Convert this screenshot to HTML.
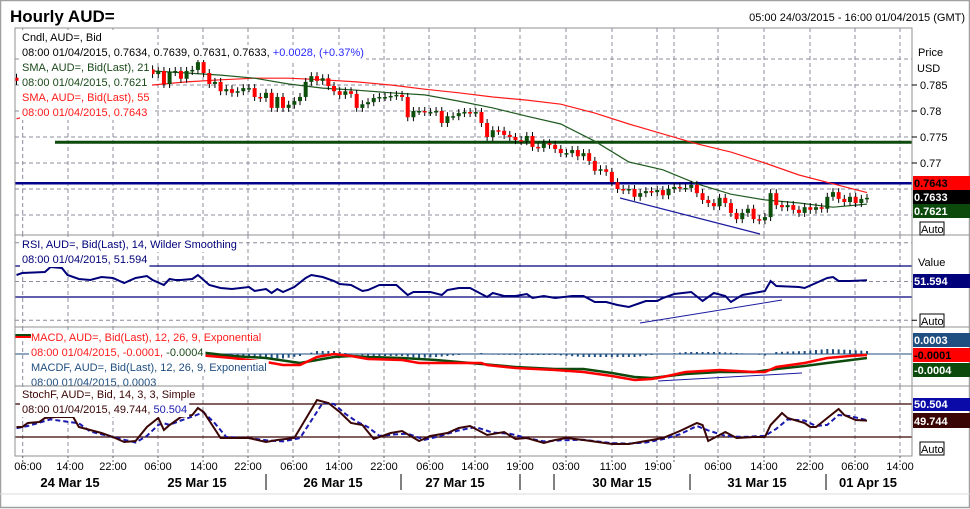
<!DOCTYPE html>
<html><head><meta charset="utf-8"><style>
html,body{margin:0;padding:0;background:#fff}
svg{display:block;font-family:"Liberation Sans",Arial,sans-serif}
</style></head><body>
<svg id="c" width="970" height="509" viewBox="0 0 970 509" xmlns="http://www.w3.org/2000/svg">
<rect x="0" y="0" width="970" height="509" fill="#fff"/>
<rect x="0.5" y="0.5" width="969" height="507" fill="none" stroke="#a0a0a0" stroke-width="1.5"/>
<text x="10" y="22" font-size="17" font-weight="bold" fill="#000">Hourly AUD=</text>
<text x="965" y="21" font-size="11" text-anchor="end" fill="#000">05:00 24/03/2015 - 16:00 01/04/2015 (GMT)</text>
<g id="grid"></g>
<g id="marks"></g>
<g id="legend"></g>
<g id="frames"></g>
<g id="axes"></g>
</svg>
<script>
// ---------- DATA ----------
const closes = [0.7858,0.7862,0.7866,0.7870,0.7868,0.7872,0.7875,0.7873,0.7870,0.7874,0.7878,0.7880,0.7877,0.7874,0.7872,0.7876,0.7879,0.7882,0.7880,0.7877,0.7875,0.7878,0.7876,0.7880,
0.7871,0.7877,0.7852,0.7875,0.7877,0.7862,0.7877,0.7879,0.7894,0.7873,0.7852,0.7856,0.7838,0.7842,0.7835,0.7838,0.7844,0.7844,0.7827,0.7825,0.7835,0.7806,0.7827,0.7806,0.7812,0.7819,
0.7827,0.7856,0.7867,0.7858,0.7863,0.7848,0.7838,0.7831,0.7838,0.7833,0.7806,0.7813,0.7817,0.7825,0.7827,0.7827,0.7829,0.7831,0.7827,0.7788,0.7800,0.7800,0.7798,0.7798,0.7800,
0.7777,0.7790,0.7790,0.7796,0.7798,0.7796,0.7798,0.7777,0.7750,0.7763,0.7762,0.7754,0.7750,0.7744,0.7742,0.7752,0.7731,0.7729,0.7738,0.7735,0.7727,0.7719,0.7719,0.7725,0.7713,
0.7719,0.7704,0.7685,0.7688,0.7683,0.7663,0.7650,0.7648,0.7650,0.7635,0.7642,0.7646,0.7644,0.7648,0.7638,0.7650,0.7654,0.7652,0.7652,0.7658,0.7642,0.7629,0.7623,0.7617,0.7633,
0.7623,0.7604,0.7592,0.7604,0.7612,0.7592,0.7590,0.7596,0.7642,0.7619,0.7615,0.7619,0.7610,0.7604,0.7615,0.7610,0.7615,0.7612,0.7635,0.7644,0.7631,0.7625,0.7635,0.7623,0.7631,0.7633];
const sma21Idx = [24,30,36,42,48,54,60,66,72,78,84,90,96,102,108,114,120,126,132,138,144,150];
const sma21Val = [0.7877,0.7873,0.7869,0.7863,0.7852,0.7844,0.7840,0.7835,0.7831,0.7819,0.7806,0.7790,0.7775,0.7742,0.7702,0.7687,0.7660,0.7640,0.7629,0.7623,0.7615,0.7621];
const sma55Idx = [0,6,12,18,24,30,36,42,48,54,60,66,72,78,84,90,96,102,108,114,120,126,132,138,144,150];
const sma55Val = [0.7785,0.7802,0.7821,0.7837,0.7850,0.7856,0.7860,0.7863,0.7863,0.7860,0.7856,0.7850,0.7842,0.7835,0.7827,0.7821,0.7813,0.7796,0.7775,0.7756,0.7737,0.7721,0.7700,0.7677,0.7660,0.7643];
const priceTicks = [0.785,0.78,0.775,0.77];
const priceTickLabels = ["0.785","0.78","0.775","0.77"];
const supportLevel = 0.774;
const resistLevel = 0.7661;

const rsiIdx = [0,1,5,6,8,9,11,13,15,17,19,21,23,24,26,27,28,29,31,32,34,36,38,41,42,44,45,46,47,49,51,52,54,56,57,59,61,62,64,67,69,70,73,75,76,78,80,83,84,86,88,90,91,93,95,98,100,102,104,106,108,110,111,113,114,116,119,121,123,125,126,128,131,132,133,134,138,139,141,143,144,145,147,150];
const rsiVal = [58.4,61.0,62.3,68.7,67.4,58.4,53.2,51.9,55.8,54.5,48.1,54.5,57.1,51.9,45.5,53.2,51.9,51.9,53.2,58.4,45.5,41.6,40.3,42.9,37.7,40.3,35.2,40.3,36.5,42.9,54.5,58.4,55.8,50.6,46.8,45.5,37.7,39.0,45.5,45.5,32.6,36.5,36.5,32.6,39.0,41.6,41.6,30.0,35.2,31.3,31.3,33.9,28.7,31.3,28.7,31.3,31.3,23.6,23.6,19.7,17.1,22.3,24.8,24.8,28.7,33.9,36.5,24.8,35.2,31.3,23.6,32.6,36.5,37.7,50.6,44.2,42.9,41.6,48.1,54.5,55.8,50.6,50.6,51.594];

const macdIdx = [32,38,44,47,50,53,56,59,62,68,71,79,82,83,88,95,100,105,109,112,114,118,124,130,132,134,139,143,147,150];
const macdVal = [-0.0001,-0.0004,-0.0008,-0.0011,-0.0011,-0.0003,0.0000,-0.0002,-0.0005,-0.0006,-0.0009,-0.0009,-0.0009,-0.0011,-0.0014,-0.0016,-0.0018,-0.0022,-0.0026,-0.0025,-0.0023,-0.0018,-0.0016,-0.0018,-0.0018,-0.0013,-0.0009,-0.0004,-0.0002,-0.0001];
const sigIdx = [32,38,44,50,53,56,59,62,68,74,82,88,95,100,105,109,112,118,124,130,134,139,143,150];
const sigVal = [0.0002,-0.0002,-0.0004,-0.0009,-0.0006,-0.0003,-0.0002,-0.0003,-0.0004,-0.0006,-0.0010,-0.0013,-0.0015,-0.0015,-0.0019,-0.0023,-0.0024,-0.0020,-0.0018,-0.0018,-0.0015,-0.0012,-0.0009,-0.0004];

const kIdx = [0,1,2,4,5,7,9,10,11,13,15,17,19,21,23,25,26,27,29,31,32,33,36,38,41,44,46,49,53,55,57,59,61,63,66,68,71,73,76,78,80,83,86,88,90,93,95,97,100,105,108,111,114,117,120,121,122,125,127,130,132,133,135,136,139,140,141,143,145,146,148,150];
const kVal = [38.2,38.2,45.5,47.3,54.5,56.4,56.4,56.4,38.2,32.7,27.3,20.0,10.9,12.7,38.2,54.5,32.7,41.8,56.4,60.0,72.7,65.5,18.2,18.2,18.2,10.9,14.5,18.2,87.3,81.8,65.5,45.5,41.8,16.4,27.3,30.9,12.7,21.8,27.3,36.4,40.0,23.6,29.1,16.4,18.2,9.1,14.5,18.2,14.5,7.3,7.3,12.7,18.2,30.9,45.5,41.8,12.7,29.1,18.2,20.0,20.0,41.8,63.6,54.5,45.5,38.2,38.2,54.5,70.9,60.0,50.9,49.744];
const dIdx = [0,2,4,6,11,13,15,17,19,21,23,25,26,27,29,31,33,35,37,41,44,47,50,54,56,58,60,62,64,67,69,72,74,78,81,84,87,90,93,96,100,105,108,111,114,117,120,122,125,128,132,134,136,139,141,143,145,147,150];
const dVal = [36,40,46,52,45,30,25,20,15,10,22,42,45,42,50,57,65,45,20,18,14,12,18,82,80,62,48,38,22,25,26,15,20,32,38,28,26,18,12,14,15,9,8,10,16,25,40,32,22,20,22,35,52,50,40,42,60,58,50.504];

const timeLabels = ["06:00","14:00","22:00","06:00","14:00","22:00","06:00","14:00","22:00","06:00","14:00","19:00","03:00","11:00","19:00","06:00","14:00","22:00","06:00","14:00"];
const dateLabels = ["24 Mar 15","25 Mar 15","26 Mar 15","27 Mar 15","30 Mar 15","31 Mar 15","01 Apr 15"];

// ---------- LAYOUT ----------
const NS="http://www.w3.org/2000/svg";
const L=15,R=912;
const P={top:28,bot:235}, RS={top:235,bot:327}, M={top:327,bot:386}, S={top:386,bot:456};
const xi=i=>16.5+i*5.67;
const yP=p=>85+(0.785-p)*5200;
const yR=v=>281.5-(v-50)*0.775;
const yM=v=>354-v*10000;
const yS=v=>420.5-(v-50)*0.55;
const gridX=[22.7,68,113,158,203,248,293,339,384,429,475,520,566,612,657,674,718,764,810,855,900];
const timeX=[28,70,113,158,204,248,294,339,384,430,475,520,566,613,658,718,764,810,855,900];
const dateX=[70,197,333,455,622,757,868];
const sepX=[266,401,520,554,690,826];

function mk(tag,attrs,parent,txt){const e=document.createElementNS(NS,tag);for(const k in attrs)e.setAttribute(k,attrs[k]);if(txt!==undefined)e.textContent=txt;parent.appendChild(e);return e;}
const grid=document.getElementById('grid'),marks=document.getElementById('marks'),legend=document.getElementById('legend'),frames=document.getElementById('frames'),axes=document.getElementById('axes');

// grid
const dash={stroke:"#8c8c9c","stroke-width":1,"stroke-dasharray":"4,3",fill:"none"};
for(const x of gridX){
  for(const pn of [P,RS,M,S]){
    const g=mk('line',Object.assign({x1:x,x2:x,y1:pn.top,y2:pn.bot},dash),grid);
    
    
  }
}
for(const y of [59,85,111,137,163,189,215]){const g=mk('line',Object.assign({x1:L,x2:R,y1:y,y2:y},dash),grid);}
for(const v of [100,50,0]){const g=mk('line',Object.assign({x1:L,x2:R,y1:yR(v),y2:yR(v)},dash),grid);}

function poly(idx,val,ys,attrs,name){
  const pts=idx.map((i,k)=>xi(i).toFixed(1)+","+ys(val[k]).toFixed(1)).join(" ");
  const e=mk('polyline',Object.assign({points:pts,fill:"none"},attrs),marks);
  
  
  return e;
}
function hline(y,x1,x2,col,w,name){const e=mk('line',{x1:x1,x2:x2,y1:y,y2:y,stroke:col,"stroke-width":w},marks);}

// price panel
hline(yP(supportLevel),55,R,"#0d4a0d",3,"support-line-0774");
hline(yP(resistLevel),L,R,"#00008b",2.5,"resistance-line");
poly(sma55Idx,sma55Val,yP,{stroke:"#ff1a1a","stroke-width":1.2},"sma55-line");
poly(sma21Idx,sma21Val,yP,{stroke:"#1f5a1f","stroke-width":1.2},"sma21-line");
for(let i=0;i<closes.length;i++){
  const o=i>0?closes[i-1]:closes[i]+0.0006, c=closes[i];
  const up=c>=o, col=up?"#0b4f0b":"#ff0000";
  const yt=yP(Math.max(o,c)), yb=yP(Math.min(o,c));
  const x=xi(i);
  const w=mk('line',{x1:x,x2:x,y1:yt-4,y2:yb+4,stroke:"#000","stroke-width":1},marks);
  
  
  const b=mk('rect',{x:x-2,y:yt,width:4,height:Math.max(1.5,yb-yt),fill:col},marks);
  
  
}
const tl=mk('line',{x1:620,y1:198,x2:760,y2:234,stroke:"#1a1aa0","stroke-width":1.2},marks);


// RSI
hline(yR(70),L,R,"#00007a",1.2,"rsi-70-line");
hline(yR(30),L,R,"#00007a",1.2,"rsi-30-line");
poly(rsiIdx,rsiVal,yR,{stroke:"#00007a","stroke-width":2},"rsi-line");
const rt=mk('line',{x1:640,y1:323,x2:782,y2:300,stroke:"#1a1aa0","stroke-width":1},marks);


// MACD
hline(yM(0),L,R,"#1f4e80",1,"macd-zero-line");
function interp(idx,val,i){if(i<=idx[0])return val[0];for(let k=1;k<idx.length;k++){if(i<=idx[k]){const t=(i-idx[k-1])/(idx[k]-idx[k-1]);return val[k-1]+t*(val[k]-val[k-1]);}}return val[val.length-1];}
for(let i=32;i<=150;i++){
  const h=interp(macdIdx,macdVal,i)-interp(sigIdx,sigVal,i);
  const y0=yM(0), y1=y0-h*10000;
  const bar=mk('rect',{x:xi(i)-1,y:Math.min(y0,y1),width:2,height:Math.max(0.5,Math.abs(y1-y0)),fill:"#1f4e80"},marks);
  
  
}
poly(sigIdx,sigVal,yM,{stroke:"#0d4a0d","stroke-width":2.5},"macd-signal-line");
poly(macdIdx,macdVal,yM,{stroke:"#ff0000","stroke-width":2.5},"macd-line");
const mt=mk('line',{x1:658,y1:381,x2:802,y2:373,stroke:"#1a1aa0","stroke-width":1},marks);


// Stoch
hline(yS(80),L,R,"#3a0505",1.2,"stoch-80-line");
hline(yS(20),L,R,"#3a0505",1.2,"stoch-20-line");
poly(dIdx,dVal,yS,{stroke:"#1a1ab0","stroke-width":2,"stroke-dasharray":"5,3"},"stoch-d-line");
poly(kIdx,kVal,yS,{stroke:"#3a0505","stroke-width":2},"stoch-k-line");

// Legends (text with white background)
function leg(x,y,parts,name){
  const t=mk('text',{x:x,y:y,"font-size":11},legend);
  
  
  for(const [s,c] of parts){mk('tspan',{fill:c},t,s);}
  const bb=t.getBBox();
  const r=document.createElementNS(NS,'rect');
  r.setAttribute('x',x-2);r.setAttribute('y',y-11);r.setAttribute('width',bb.width+4);r.setAttribute('height',15);r.setAttribute('fill','#fff');
  
  
  legend.insertBefore(r,legend.firstChild);
}
leg(22,41,[["Cndl, AUD=, Bid","#000"]],"legend-candle");
leg(22,56,[["08:00 01/04/2015, 0.7634, 0.7639, 0.7631, 0.7633, ","#000"],["+0.0028, (+0.37%)","#2a2aff"]],"legend-candle-values");
leg(22,71,[["SMA, AUD=, Bid(Last),  21","#1a4a1a"]],"legend-sma21");
leg(22,86,[["08:00 01/04/2015, 0.7621","#1a4a1a"]],"legend-sma21-value");
leg(22,101,[["SMA, AUD=, Bid(Last),  55","#ff1a1a"]],"legend-sma55");
leg(22,116,[["08:00 01/04/2015, 0.7643","#ff1a1a"]],"legend-sma55-value");
const lb=mk('rect',{x:20,y:30,width:132,height:87,fill:"#fff"},legend);

legend.insertBefore(lb,legend.firstChild);
leg(22,248,[["RSI, AUD=, Bid(Last),  14, Wilder Smoothing","#00007a"]],"legend-rsi");
leg(22,263,[["08:00 01/04/2015, 51.594","#00007a"]],"legend-rsi-value");
leg(31,341,[["MACD, AUD=, Bid(Last),  12, 26, 9, Exponential","#ff1a1a"]],"legend-macd");
leg(31,356,[["08:00 01/04/2015, -0.0001, ","#ff1a1a"],["-0.0004","#1a4a1a"]],"legend-macd-value");
leg(31,371,[["MACDF, AUD=, Bid(Last),  12, 26, 9, Exponential","#1f4e80"]],"legend-macdf");
leg(31,386,[["08:00 01/04/2015, 0.0003","#1f4e80"]],"legend-macdf-value");
leg(22,398,[["StochF, AUD=, Bid,  14, 3, 3, Simple","#3a0505"]],"legend-stoch");
leg(22,413,[["08:00 01/04/2015, 49.744, ","#3a0505"],["50.504","#1a1ab0"]],"legend-stoch-value");
mk('rect',{x:15,y:334,width:16,height:2,fill:"#0d4a0d"},legend);
mk('rect',{x:15,y:336,width:16,height:2,fill:"#ff0000"},legend);

// frames
for(const pn of [P,RS,M,S]){const f=mk('rect',{x:L,y:pn.top,width:R-L,height:pn.bot-pn.top,fill:"none",stroke:"#909090","stroke-width":1},frames);}
mk('line',{x1:L,x2:969,y1:P.bot,y2:P.bot,stroke:"#909090"},frames);
mk('line',{x1:L,x2:969,y1:RS.bot,y2:RS.bot,stroke:"#909090"},frames);
mk('line',{x1:L,x2:969,y1:M.bot,y2:M.bot,stroke:"#909090"},frames);

// right axis
function atxt(x,y,s,name,extra){const t=mk('text',Object.assign({x:x,y:y,"font-size":11,fill:"#000"},extra||{}),axes,s);return t;}
atxt(918,56,"Price","price-axis-title");
atxt(917,72,"USD","price-axis-unit");
priceTicks.forEach((p,k)=>{mk('line',{x1:R,x2:917,y1:yP(p),y2:yP(p),stroke:"#000"},axes);atxt(920,yP(p)+4,priceTickLabels[k],"price-tick-label");});
function box(y,h,bg,fg,s,name){const r=mk('rect',{x:913,y:y,width:57,height:h,fill:bg},axes);atxt(914,y+h-3,s,name,{fill:fg,"font-weight":"bold"});}
box(176,14,"#ff0000","#000","0.7643","sma55-value-label");
box(190,14,"#000","#fff","0.7633","last-price-label");
box(204,14,"#0b4a0b","#fff","0.7621","sma21-value-label");
function auto(y,name){const r=mk('rect',{x:920,y:y,width:24,height:13,fill:"#fff",stroke:"#000"},axes);atxt(921,y+11,"Auto",name+'-text');}
auto(222,"price-auto-button");
atxt(918,266,"Value","rsi-axis-title");
mk('line',{x1:R,x2:917,y1:yR(0),y2:yR(0),stroke:"#000"},axes);
box(274,14,"#00007a","#fff","51.594","rsi-value-label");
auto(314,"rsi-auto-button");
box(333,14,"#1f4e80","#fff","0.0003","macdf-value-label");
box(348,14,"#ff0000","#000","-0.0001","macd-value-label");
box(363,14,"#0b4a0b","#fff","-0.0004","signal-value-label");
box(398,13,"#0a0aa8","#fff","50.504","stoch-d-value-label");
box(413,15,"#3a0505","#fff","49.744","stoch-k-value-label");
auto(442,"stoch-auto-button");

// x axis
gridX.forEach(x=>{mk('line',{x1:x,x2:x,y1:S.bot,y2:S.bot+6,stroke:"#606060","stroke-dasharray":"2,2"},axes);});
timeLabels.forEach((s,k)=>atxt(timeX[k],470,s,"time-tick-label",{"text-anchor":"middle"}));
dateLabels.forEach((s,k)=>atxt(dateX[k],487,s,"date-tick-label",{"text-anchor":"middle","font-weight":"bold","font-size":13}));
sepX.forEach(x=>{mk('line',{x1:x,x2:x,y1:474,y2:490,stroke:"#000"},axes);});
mk('line',{x1:0,x2:970,y1:494,y2:494,stroke:"#d8d8d8"},axes);
</script>
</body></html>
